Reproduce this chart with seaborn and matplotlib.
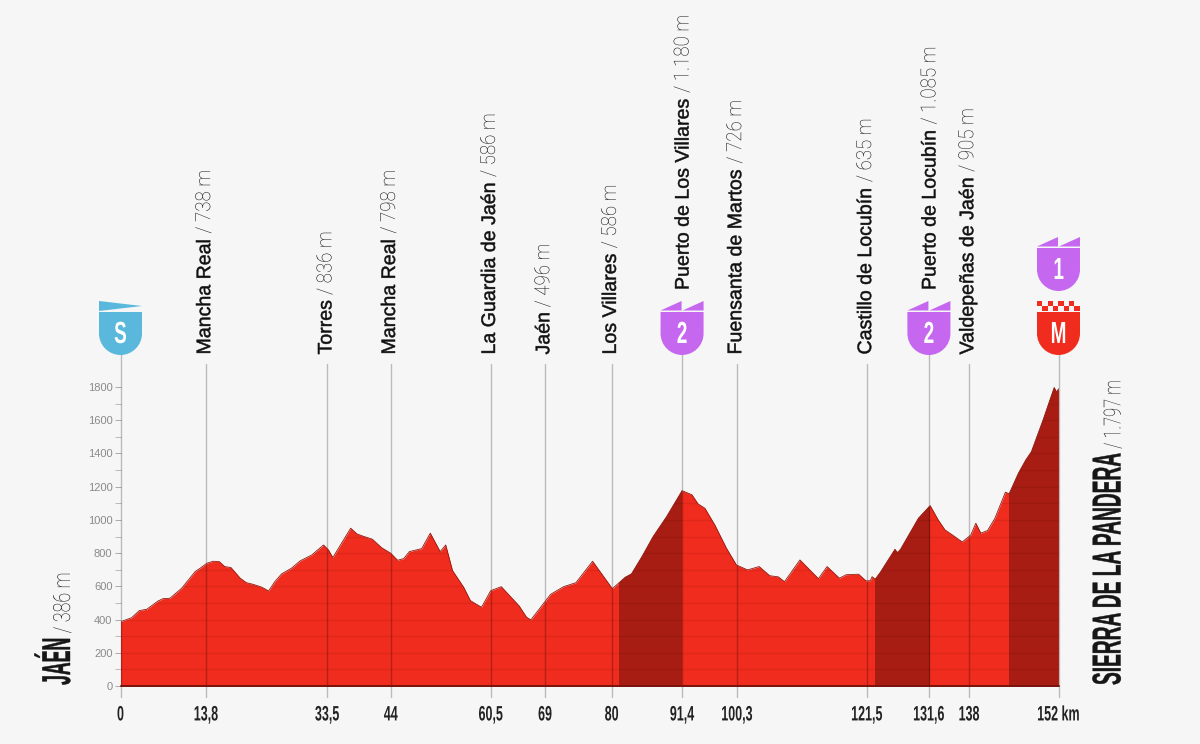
import pandas as pd
import matplotlib
matplotlib.use("Agg")
import matplotlib.pyplot as plt
import seaborn as sns
from matplotlib.patches import Polygon, PathPatch, Rectangle
from matplotlib.path import Path
from matplotlib.patheffects import AbstractPathEffect
from matplotlib.transforms import Affine2D

# profile
km = [0, 1.8, 3.05, 4.25, 6.1, 6.9, 8.0, 9.9, 12.1, 12.9, 14.0, 15.0, 16.0, 16.9, 17.9, 19.4, 20.4, 21.5,
      22.9, 24.0, 25.0, 26.1, 27.7, 29.1, 31.0, 32.9, 33.7, 34.4, 37.3, 38.3, 39.3, 40.8, 42.3, 43.8, 44.9,
      45.9, 46.8, 48.8, 50.2, 51.8, 52.7, 53.8, 55.6, 56.7, 58.5, 60.0, 61.7, 64.6, 65.8, 66.5, 69.7, 71.8,
      73.8, 76.5, 79.7, 81.8, 82.8, 84.5, 86.3, 88.5, 91.0, 92.6, 93.6, 94.7, 96.3, 98.2, 99.8, 101.6, 103.5,
      105.2, 106.6, 107.6, 110.1, 113.1, 114.5, 116.5, 117.6, 119.6, 120.8, 121.5, 121.8, 122.3, 123.1, 125.5,
      125.9, 126.4, 129.3, 131.2, 132.5, 133.6, 135.2, 136.4, 137.8, 138.6, 139.4, 140.5, 141.7, 143.4, 144.0,
      145.5, 146.7, 147.6, 149.5, 151.3, 151.7, 152]
elev = [387, 411, 454, 462, 512, 526, 528, 588, 689, 709, 739, 751, 749, 719, 713, 649, 622, 612,
        595, 572, 628, 675, 709, 753, 789, 849, 819, 773, 950, 916, 902, 884, 833, 799, 757,
        767, 809, 827, 920, 809, 849, 695, 595, 514, 474, 574, 598, 482, 414, 398, 552, 598,
        622, 751, 586, 655, 675, 779, 899, 1020, 1176, 1151, 1096, 1070, 970, 829, 729, 699, 719,
        664, 657, 628, 759, 646, 719, 649, 670, 673, 633, 634, 658, 643, 683, 823,
        803, 823, 1010, 1086, 1000, 940, 899, 867, 910, 980, 920, 936, 1010, 1167, 1157,
        1281, 1361, 1410, 1602, 1797, 1769, 1789]

climb_start = [80.7, 122.3, 144.0]
climb_end = [91.0, 131.2, 152.0]

tick_km = [0, 13.85, 33.5, 43.8, 60.0, 68.8, 79.6, 91.0, 99.9, 120.95, 131.0, 137.5, 152]
tick_labels = ["0", "13,8", "33,5", "44", "60,5", "69", "80", "91,4", "100,3", "121,5", "131,6", "138", "152 km"]

place_km = [13.85, 33.5, 43.8, 60.0, 68.8, 79.6, 91.0, 99.9, 120.95, 131.0, 137.5]
place_names = ["Mancha Real", "Torres", "Mancha Real", "La Guardia de Jaén", "Jaén", "Los Villares",
               "Puerto de Los Villares", "Fuensanta de Martos", "Castillo de Locubín", "Puerto de Locubín",
               "Valdepeñas de Jaén"]
place_heights = ["738 m", "836 m", "798 m", "586 m", "496 m", "586 m", "1.180 m", "726 m", "635 m", "1.085 m", "905 m"]

BG = "#f6f6f6"
RED = "#f02c1e"
DARK = "#a81d13"
PURPLE = "#c667f0"
BLUE = "#5ab8dc"
INK = "#161616"

sns.set_theme(style="white", rc={"axes.facecolor": BG, "figure.facecolor": BG})
plt.rcParams["font.family"] = ["Liberation Sans", "DejaVu Sans"]


class Squeeze(AbstractPathEffect):
    # narrows the glyphs along the text direction, no condensed font is installed
    def __init__(self, sx, stroke=0.0, center=False):
        super().__init__()
        self.sx = sx
        self.stroke = stroke
        self.center = center

    def draw_path(self, renderer, gc, tpath, affine, rgbFace=None):
        shift = 0.0
        if self.center:
            ext = tpath.get_extents()
            shift = (1 - self.sx) * (ext.x0 + ext.x1) / 2
        gc0 = renderer.new_gc()
        gc0.copy_properties(gc)
        if self.stroke:
            gc0.set_linewidth(self.stroke)
            gc0.set_foreground(rgbFace)
        tr = Affine2D().scale(self.sx, 1).translate(shift, 0) + affine
        renderer.draw_path(gc0, tpath, tr, rgbFace)
        gc0.restore()


fig = plt.figure(figsize=(12, 7.44), dpi=100)
ax = fig.add_axes([120.5 / 1200, (744 - 686) / 744, 938 / 1200, 299 / 744])
ax.set_xlim(0, 152)
ax.set_ylim(0, 1800)

# overlay in pixels for the shields and the rotated names
over = fig.add_axes([0, 0, 1, 1], facecolor="none")
over.set_xlim(0, 1200)
over.set_ylim(744, 0)
over.axis("off")
rend = fig.canvas.get_renderer()

profile = pd.DataFrame({"km": km, "elev": elev})
fill = ax.fill_between(profile["km"], profile["elev"], 0, color=RED, lw=0, zorder=1)
clip = fill.get_paths()[0]

for a, b in zip(climb_start, climb_end):
    span = ax.axvspan(a, b, color=DARK, lw=0, zorder=2)
    span.set_clip_path(clip, transform=ax.transData)

for y in range(100, 1900, 100):
    ln = ax.axhline(y, color="black", alpha=0.08, lw=0.9, zorder=3)
    ln.set_clip_path(clip, transform=ax.transData)

sns.lineplot(data=profile, x="km", y="elev", color="#8f1a10", lw=0.6, ax=ax, zorder=4, errorbar=None, sort=False)
ax.plot([0, 152], [0, 0], color="#7a120c", lw=1.4, zorder=5, clip_on=False)
ax.plot([152, 152], [0, 1789], color="#8a140c", lw=0.9, zorder=5)

# vertical lines for the waypoints, they run past the axes
shield_km = [0, 91.0, 131.0, 152]
for x in tick_km:
    top = 2000 if x in shield_km else 1940
    ax.plot([x, x], [-66, top], color="black", alpha=0.24, lw=1.0, zorder=3, clip_on=False)

ax.set_xticks(tick_km)
ax.set_xticklabels(tick_labels, fontsize=15, weight="bold", color="#222222",
                   path_effects=[Squeeze(0.6, center=True)])
ax.tick_params(axis="x", length=0, pad=14)
ax.set_yticks(range(0, 2000, 200))
ax.set_yticks(range(100, 1900, 200), minor=True)
ax.tick_params(axis="y", which="major", length=4.3, width=0.7, color="#aaaaaa", labelcolor="#8a8a8a",
               labelsize=8, pad=1.5, left=True)
ax.tick_params(axis="y", which="minor", length=4.3, width=0.7, color="#bbbbbb", left=True)
ax.set_xlabel("")
ax.set_ylabel("")
for s in ax.spines.values():
    s.set_visible(False)


def to_px(x):
    return 120.5 + x / 152 * 938


def rotated_pair(xbase, ystart, first, second, size1, size2, sx1, sx2, stroke1, color1, color2, weight1="normal"):
    # two rotated texts on one baseline, second one follows the squeezed end of the first
    t = over.text(xbase, ystart, first, rotation=90, rotation_mode="anchor", ha="left", va="baseline",
                  fontsize=size1, color=color1, path_effects=[Squeeze(sx1, stroke=stroke1)], weight=weight1)
    used = t.get_window_extent(rend).height * sx1
    over.text(xbase, ystart - used, second, rotation=90, rotation_mode="anchor", ha="left", va="baseline",
              fontsize=size2, color=color2, path_effects=[Squeeze(sx2)], family="Roboto", weight="light")


for x, name, h in zip(place_km, place_names, place_heights):
    on_shield = x in shield_km
    rotated_pair(to_px(x) + (6.5 if on_shield else 4.2), 290 if on_shield else 354.5, name, " / " + h,
                 14.1, 15, 1.0, 0.9, 0.35, "#111111", "#111111")

rotated_pair(70, 685, "JAÉN", " / 386 m", 29, 17, 0.44, 0.76, 0.3, INK, "#111111", weight1="bold")
rotated_pair(1120.5, 685, "SIERRA DE LA PANDERA", " / 1.797 m", 29, 17, 0.475, 0.7, 0.3, INK, "#111111", weight1="bold")


def body(cx, top, color, letter):
    # shield body, flat top and round bottom
    w = 21.5
    h = 43
    k = 0.55 * w
    verts = [(cx - w, top), (cx + w, top), (cx + w, top + h - w), (cx + w, top + h - w + k), (cx + k, top + h),
             (cx, top + h), (cx - k, top + h), (cx - w, top + h - w + k), (cx - w, top + h - w), (cx - w, top)]
    codes = [Path.MOVETO, Path.LINETO, Path.LINETO, Path.CURVE4, Path.CURVE4, Path.CURVE4, Path.CURVE4, Path.CURVE4,
             Path.CURVE4, Path.CLOSEPOLY]
    over.add_patch(PathPatch(Path(verts, codes), fc=color, lw=0))
    over.text(cx, top + 31, letter, ha="center", va="baseline", weight="bold", fontsize=22, color="white",
              path_effects=[Squeeze(0.62, center=True)])


def teeth(cx, top, color):
    over.add_patch(Polygon([(cx - 21.5, top + 9.5), (cx - 0.5, top), (cx - 0.5, top + 9.5)], fc=color, lw=0))
    over.add_patch(Polygon([(cx + 0.5, top + 9.5), (cx + 21.5, top), (cx + 21.5, top + 9.5)], fc=color, lw=0))


def checks(cx, top, color):
    for i in range(4):
        over.add_patch(Rectangle((cx - 21.5 + i * 10.7, top), 5.3, 5, fc=color, lw=0))
        over.add_patch(Rectangle((cx - 21.5 + i * 10.7 + 5.3, top + 5), 5.3, 5, fc=color, lw=0))


cx = to_px(0)
over.add_patch(Polygon([(cx - 21.5, 301), (cx + 21.5, 306), (cx - 21.5, 311)], fc=BLUE, lw=0))
body(cx, 312, BLUE, "S")

cx = to_px(91.0)
teeth(cx, 301, PURPLE)
body(cx, 312, PURPLE, "2")

cx = to_px(131.0)
teeth(cx, 301, PURPLE)
body(cx, 312, PURPLE, "2")

cx = to_px(152)
checks(cx, 301, RED)
body(cx, 312, RED, "M")
teeth(cx, 237, PURPLE)
body(cx, 248, PURPLE, "1")

fig.savefig("out.png", dpi=100, facecolor=BG)
